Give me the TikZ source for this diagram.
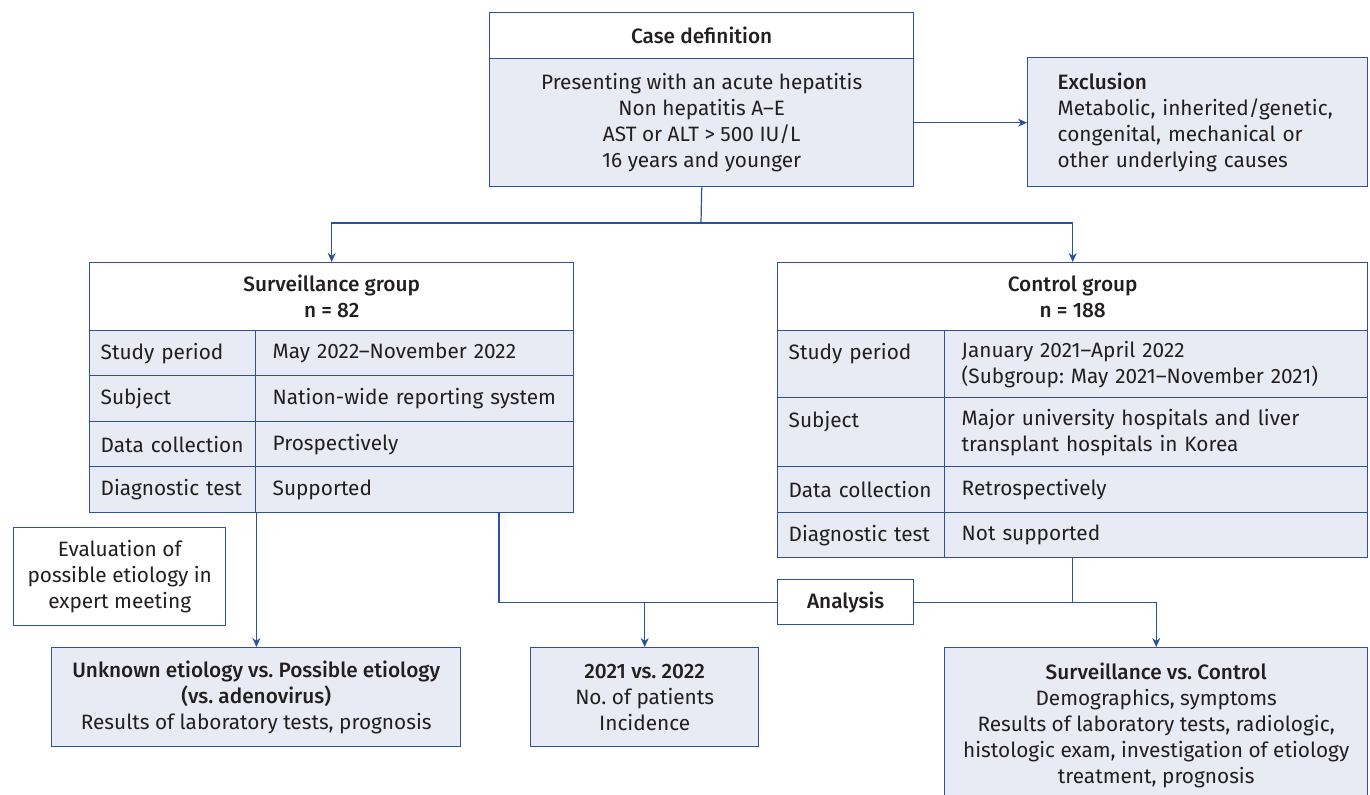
\documentclass[tikz,border=0pt]{standalone}
\usepackage{fontspec}
\setmainfont{Fira Sans}[BoldFont={Fira Sans Medium}]
\usetikzlibrary{arrows.meta}
\definecolor{blu}{HTML}{2F4F9F}
\definecolor{lav}{HTML}{E8EAF4}
\definecolor{ink}{HTML}{231F20}
\newcommand{\fs}{\fontsize{10.4}{13}\selectfont}
\frenchspacing

\begin{document}
\begin{tikzpicture}[x=0.5pt, y=-0.5pt,
  box/.style={draw=blu, line width=0.7pt, inner sep=0pt, anchor=north west,
    align=center, text=ink, font=\fs},
  boxfill/.style={box, fill=lav},
  cellL/.style={boxfill, inner xsep=5.5pt, align=left},
  cellR/.style={boxfill, inner xsep=8.5pt, align=left},
  conn/.style={draw=blu, line width=0.6pt},
  arr/.style={conn, -{Stealth[length=4.5pt, width=4pt]}}]
  \useasboundingbox (0,0) rectangle (1370,795);

  % Case definition
  \node[box, minimum width=212pt, minimum height=23pt, font=\fs\bfseries]
    (casehead) at (489,12) {Case definition};
  \node[boxfill, minimum width=212pt, minimum height=64pt] (casebody) at (489,58)
    {Presenting with an acute hepatitis\\Non hepatitis A--E\\AST or ALT > 500 IU/L\\16 years and younger};

  % Exclusion
  \node[boxfill, text width=140pt, inner xsep=15pt, minimum height=64.5pt, align=left]
    (excl) at (1027,57)
    {\textbf{Exclusion}\\\mbox{Metabolic, inherited/genetic,}\\congenital, mechanical or\\other underlying causes};

  % Surveillance group
  \node[box, minimum width=242pt, minimum height=34pt, font=\fs\bfseries]
    (survhead) at (89,262) {Surveillance group\\n = 82};
  \foreach \i/\y/\h/\lab/\val in {1/330/22.5pt/Study period/May 2022--November 2022,
      2/375/23pt/Subject/Nation-wide reporting system,
      3/421/22.5pt/Data collection/Prospectively,
      4/466/23pt/Diagnostic test/Supported} {
    \node[cellL, text width=72pt, minimum height=\h] (survL\i) at (89,\y) {\mbox{\lab}};
    \node[cellR, text width=142pt, minimum height=\h] (survR\i) at (255,\y) {\mbox{\val}};
  }

  % Control group
  \node[box, minimum width=295pt, minimum height=34pt, font=\fs\bfseries]
    (ctrlhead) at (777,262) {Control group\\n = 188};
  \node[cellL, text width=72.5pt, minimum height=33.5pt] (ctrlL1) at (777,330)
    {Study period\\\mbox{}};
  \node[cellR, text width=194.5pt, minimum height=33.5pt] (ctrlR1) at (944,330)
    {January 2021--April 2022\\(Subgroup: May 2021--November 2021)};
  \node[cellL, text width=72.5pt, minimum height=34.5pt] (ctrlL2) at (777,397)
    {Subject\\\mbox{}};
  \node[cellR, text width=194.5pt, minimum height=34.5pt] (ctrlR2) at (944,397)
    {Major university hospitals and liver\\transplant hospitals in Korea};
  \node[cellL, text width=72.5pt, minimum height=23pt] (ctrlL3) at (777,466)
    {\mbox{Data collection}};
  \node[cellR, text width=194.5pt, minimum height=23pt] (ctrlR3) at (944,466)
    {Retrospectively};
  \node[cellL, text width=72.5pt, minimum height=22.5pt] (ctrlL4) at (777,512)
    {\mbox{Diagnostic test}};
  \node[cellR, text width=194.5pt, minimum height=22.5pt] (ctrlR4) at (944,512)
    {Not supported};

  % Expert meeting and analysis
  \node[box, fill=white, minimum width=106pt, minimum height=49pt] (expert) at (13,527)
    {Evaluation of\\possible etiology in\\expert meeting};
  \node[box, fill=white, minimum width=68pt, minimum height=22.5pt, font=\fs\bfseries]
    (analysis) at (777,579) {Analysis};

  % Results
  \node[boxfill, minimum width=204.5pt, minimum height=49.5pt] (unknown) at (51,647)
    {\textbf{Unknown etiology vs. Possible etiology}\\\textbf{(vs. adenovirus)}\\Results of laboratory tests, prognosis};
  \node[boxfill, minimum width=114pt, minimum height=49.5pt] (y2021) at (530,647)
    {\textbf{2021 vs. 2022}\\No. of patients\\Incidence};
  \node[boxfill, minimum width=211.5pt, minimum height=77.5pt] (svc) at (944,647)
    {\textbf{Surveillance vs. Control}\\Demographics, symptoms\\Results of laboratory tests, radiologic,\\histologic exam, investigation of etiology\\treatment, prognosis};

  % Connectors
  \coordinate (split) at (701,223);
  \draw[conn] (casebody.south) -- (split);
  \draw[arr] (split) -| (survhead.north);
  \draw[arr] (split) -| (ctrlhead.north);
  \draw[arr] (casebody.east) -- (casebody.east -| excl.west);
  \draw[arr] (survL4.south east) -- (survL4.south east |- unknown.north);
  \coordinate (survout) at (499,512);
  \draw[conn] (survout) |- (analysis.west);
  \draw[arr] (y2021.north |- analysis.west) -- (y2021.north);
  \draw[conn] (ctrlhead.south |- ctrlR4.south) -- (ctrlhead.south |- analysis.east);
  \draw[arr] (analysis.east) -| (svc.north);
\end{tikzpicture}
\end{document}
